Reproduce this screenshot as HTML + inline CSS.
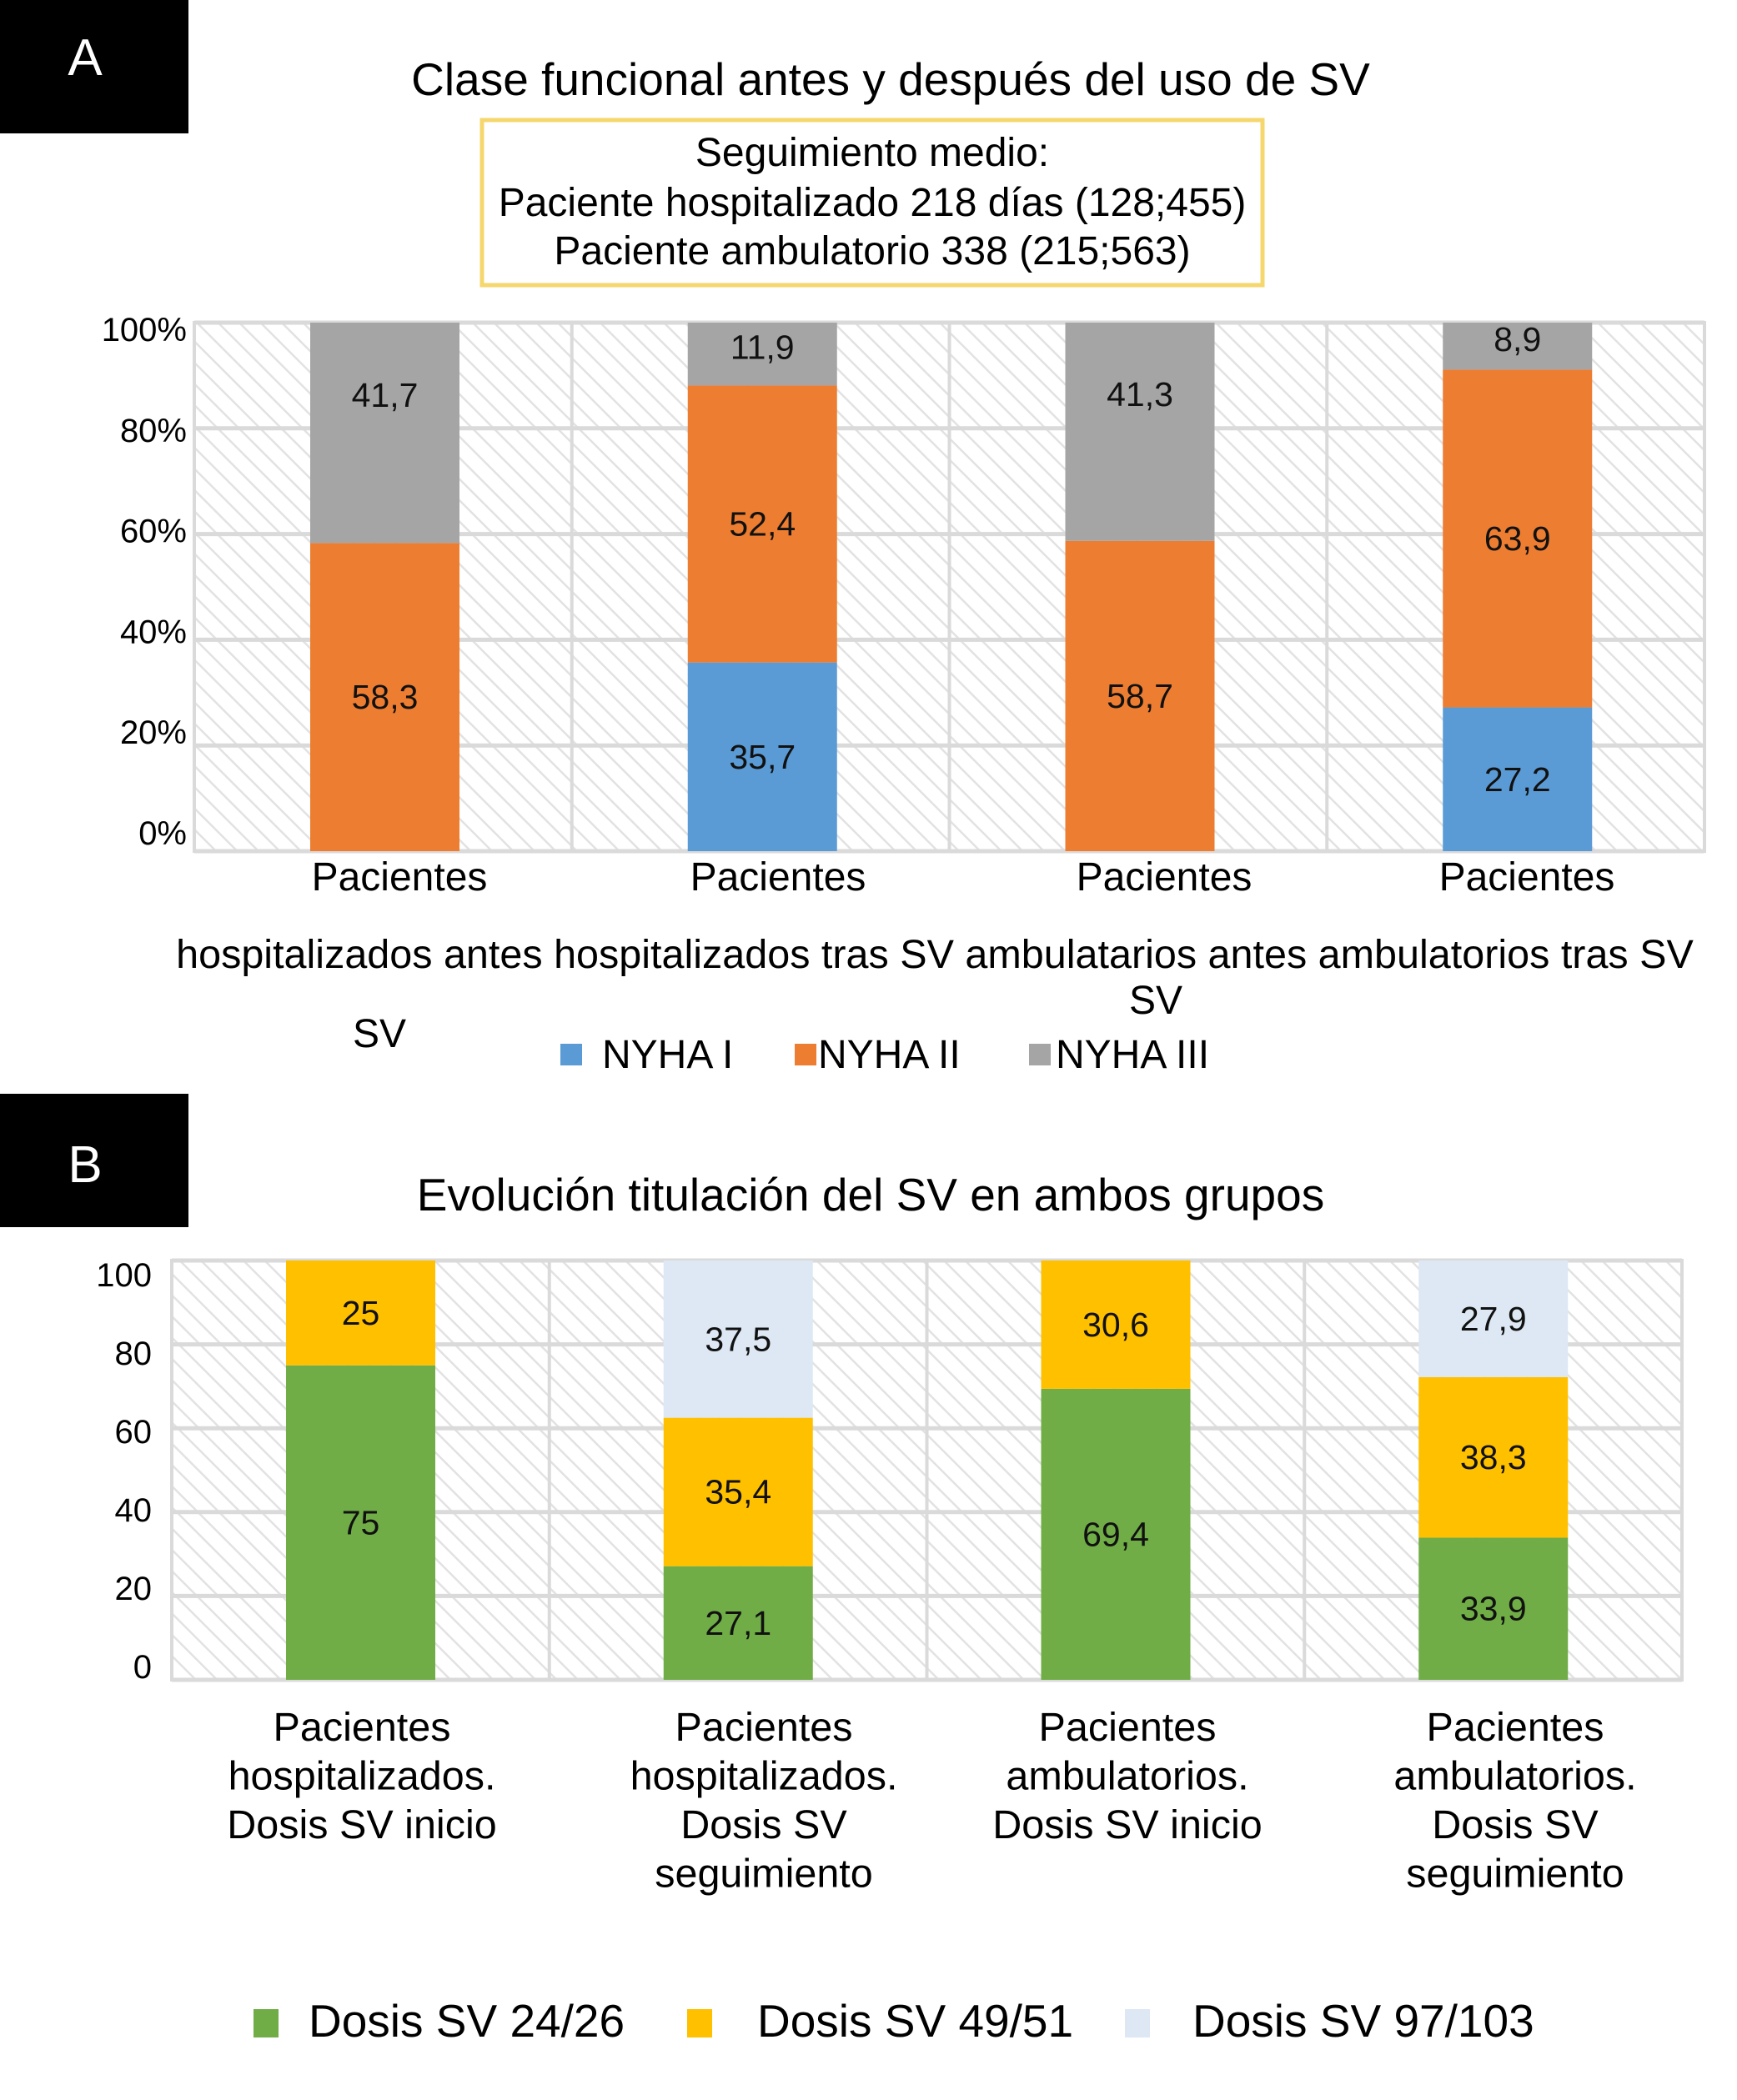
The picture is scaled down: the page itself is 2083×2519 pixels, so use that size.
<!DOCTYPE html>
<html><head><meta charset="utf-8"><style>
html,body{margin:0;padding:0;background:#fff;}
body{width:2083px;height:2519px;overflow:hidden;position:relative;font-family:"Liberation Sans",sans-serif;}
svg{position:absolute;left:0;top:0;}
</style></head><body>
<svg id="chart" width="2083" height="2519" viewBox="0 0 2083 2519" xmlns="http://www.w3.org/2000/svg">
<defs>
<pattern id="hatch" patternUnits="userSpaceOnUse" width="18" height="18" patternTransform="rotate(-45)">
<rect width="18" height="18" fill="#fff"/>
<line x1="0" y1="0" x2="0" y2="18" stroke="#e2e2e2" stroke-width="5"/>
</pattern>
</defs>
<g id="panelA"></g>
<g id="panelB"></g>
</svg>
<script>
// Panel A data
const catsA = ["hospitalizados antes SV","hospitalizados tras SV","ambulatarios antes SV","ambulatorios tras SV"];
const nyha1 = [0, 35.7, 0, 27.2];
const nyha2 = [58.3, 52.4, 58.7, 63.9];
const nyha3 = [41.7, 11.9, 41.3, 8.9];
const ticksA = [0,20,40,60,80,100];
// Panel B data
const catsB = ["hosp inicio","hosp seguimiento","amb inicio","amb seguimiento"];
const dose24 = [75, 27.1, 69.4, 33.9];
const dose49 = [25, 35.4, 30.6, 38.3];
const dose97 = [0, 37.5, 0, 27.9];
const ticksB = [0,20,40,60,80,100];

const NS="http://www.w3.org/2000/svg";
function mk(parent,tag,attrs,text){const e=document.createElementNS(NS,tag);for(const k in attrs)e.setAttribute(k,attrs[k]);if(text!==undefined)e.textContent=text;parent.appendChild(e);return e;}
function fmt(v){return String(v).replace('.',',');}

function drawPanel(g,o){
  const bg=mk(g,'rect',{x:o.x0,y:o.yTop,width:o.x1-o.x0,height:o.yBot-o.yTop,fill:'url(#hatch)',stroke:'#dadada','stroke-width':4});
  
  
  const y=v=>o.yBot-(v/100)*(o.yBot-o.yTop);
  const cw=(o.x1-o.x0)/o.n;
  o.ticks.forEach(t=>{
    const gl=mk(g,'line',{x1:o.x0,x2:o.x1,y1:y(t),y2:y(t),stroke:'#dadada','stroke-width':5});
    
    
    const lab=mk(g,'text',{x:o.labX,y:o.labY(t),'text-anchor':'end','font-size':o.tickFs,fill:'#000'},t+o.suffix);
    
    
  });
  for(let i=1;i<o.n;i++){
    const vl=mk(g,'line',{x1:o.x0+cw*i,x2:o.x0+cw*i,y1:o.yTop,y2:o.yBot,stroke:'#dadada','stroke-width':4});
    
    
  }
  for(let i=0;i<o.n;i++){
    let base=0;
    const bx=o.x0+cw*i+o.barOff;
    o.series.forEach((s,si)=>{
      const v=s.vals[i];
      if(v>0){
        const r=mk(g,'rect',{x:bx,y:y(Math.min(100,base+v)),width:o.barW,height:y(base)-y(Math.min(100,base+v)),fill:s.color});
        
        
        const t=mk(g,'text',{x:bx+o.barW/2,y:(y(base)+y(Math.min(100,base+v)))/2+14+(s.dy?s.dy(v):0),'text-anchor':'middle','font-size':41,fill:'#111'},fmt(v));
        
        
      }
      base+=v;
    });
  }
}

const gA=document.getElementById('panelA');
drawPanel(gA,{x0:233,x1:2044,yTop:387,yBot:1021,n:4,barOff:139,barW:179,ticks:ticksA,suffix:'%',labX:224,tickFs:40,
  labY:t=>1000-(t/100)*(1000-396)+13,
  series:[{key:'nyha1',vals:nyha1,color:'#5b9bd5'},{key:'nyha2',vals:nyha2,color:'#ed7d31'},{key:'nyha3',vals:nyha3,color:'#a5a5a5',dy:v=>v<15?-8:-45}]});
const gB=document.getElementById('panelB');
drawPanel(gB,{x0:206,x1:2017,yTop:1512,yBot:2015,n:4,barOff:137,barW:179,ticks:ticksB,suffix:'',labX:182,tickFs:40,
  labY:t=>2000-(t/100)*(2000-1530)+13,
  series:[{key:'dose24',vals:dose24,color:'#70ad47'},{key:'dose49',vals:dose49,color:'#ffc000'},{key:'dose97',vals:dose97,color:'#dde8f4'}]});

function txt(parent,name,x,y,fs,s,anchor,fill){const t=mk(parent,'text',{x:x,y:y,'font-size':fs,'text-anchor':anchor||'middle',fill:fill||'#000'},s);return t;}
let r=mk(gA,'rect',{x:0,y:0,width:226,height:160,fill:'#000'});
txt(gA,'panel-a-letter',102,90,62,'A','middle','#fff');
txt(gA,'chart-a-title',1068,114,55,'Clase funcional antes y después del uso de SV');
r=mk(gA,'rect',{x:578,y:144,width:936,height:198,fill:'#fff',stroke:'#f5d76e','stroke-width':5});
txt(gA,'follow-up-title',1046,199,48,'Seguimiento medio:');
txt(gA,'follow-up-hospital',1046,259,48,'Paciente hospitalizado 218 días (128;455)');
txt(gA,'follow-up-ambulatory',1046,317,48,'Paciente ambulatorio 338 (215;563)');
[479,933,1396,1831].forEach(cx=>txt(gA,'x-axis-label',cx,1068,48,'Pacientes'));
txt(gA,'x-axis-label-line2',1121,1161,48.5,'hospitalizados antes hospitalizados tras SV ambulatarios antes ambulatorios tras SV');
txt(gA,'x-axis-label-line3',1386,1216,48,'SV');
txt(gA,'x-axis-label-line3',455,1256,48,'SV');
[[672,722,'#5b9bd5','NYHA I'],[953,981,'#ed7d31','NYHA II'],[1234,1266,'#a5a5a5','NYHA III']].forEach(l=>{
  const s=mk(gA,'rect',{x:l[0],y:1252,width:26,height:26,fill:l[2]});
  txt(gA,'legend-entry',l[1],1281,48,l[3],'start');
});
r=mk(gB,'rect',{x:0,y:1312,width:226,height:160,fill:'#000'});
txt(gB,'panel-b-letter',102,1418,62,'B','middle','#fff');
txt(gB,'chart-b-title',1044,1452,55,'Evolución titulación del SV en ambos grupos');
const labB=[[434,['Pacientes','hospitalizados.','Dosis SV inicio']],[916,['Pacientes','hospitalizados.','Dosis SV','seguimiento']],[1352,['Pacientes','ambulatorios.','Dosis SV inicio']],[1817,['Pacientes','ambulatorios.','Dosis SV','seguimiento']]];
labB.forEach(c=>c[1].forEach((s,j)=>txt(gB,'x-axis-label',c[0],2088+j*58.5,48.5,s)));
[[304,370,'#70ad47','Dosis SV 24/26'],[824,908,'#ffc000','Dosis SV 49/51'],[1349,1430,'#dde8f4','Dosis SV 97/103']].forEach(l=>{
  const s=mk(gB,'rect',{x:l[0],y:2410,width:30,height:34,fill:l[2]});
  txt(gB,'legend-entry',l[1],2443,55,l[3],'start');
});
</script>
</body></html>
